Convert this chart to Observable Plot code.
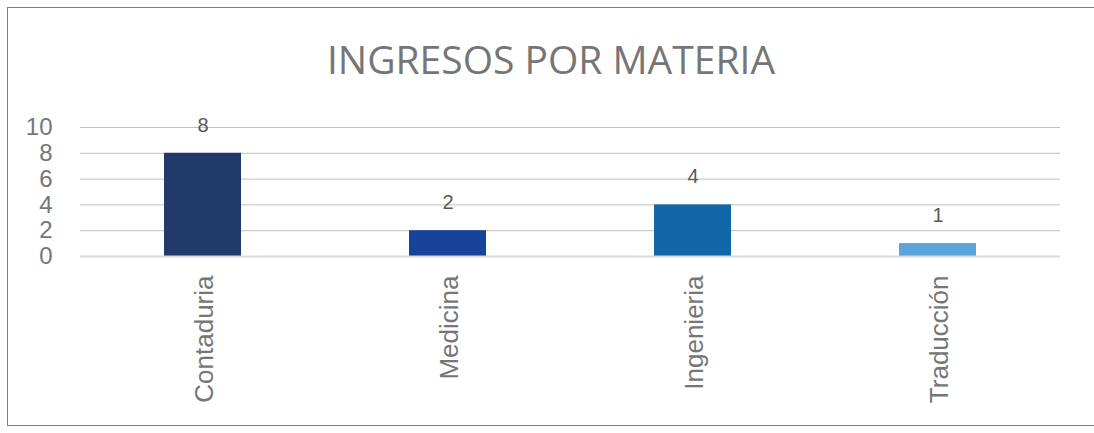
<!DOCTYPE html>
<html><head><meta charset="utf-8">
<script src="https://cdn.jsdelivr.net/npm/d3@7"></script>
<script src="https://cdn.jsdelivr.net/npm/@observablehq/plot@0.6"></script>
<style>
html,body{margin:0;padding:0;background:#fff;overflow:hidden;}
#wrap{position:relative;width:1094px;height:433px;overflow:hidden;font-family:"Liberation Sans",Arial,sans-serif;}
#frame{position:absolute;left:7px;top:7px;width:1120px;height:419px;border:1px solid #7f7f7f;box-sizing:border-box;}
#title{position:absolute;left:0;top:33px;width:1102px;text-align:center;font-family:"Open Sans",sans-serif;font-size:39px;color:#767676;line-height:52px;}
#chart{position:absolute;left:0;top:100px;}
</style></head>
<body><div id="wrap"><div id="frame"></div><div id="title">INGRESOS POR MATERIA</div><div id="chart"></div></div>
<script>
const categories = ["Contaduria", "Medicina", "Ingenieria", "Traducción"];
const values = [8, 2, 4, 1];
const colors = ["#1f3a6b", "#17439a", "#1268a6", "#5ba5dc"];
const yTicks = [0, 2, 4, 6, 8, 10];

const data = categories.map((c, i) => ({cat: c, v: values[i], col: colors[i]}));

const plot = Plot.plot({
  width: 1094,
  height: 333,
  marginLeft: 80,
  marginRight: 34,
  marginTop: 27,
  marginBottom: 177,
  style: {fontFamily: "Liberation Sans, Arial, sans-serif", background: "transparent"},
  x: {domain: categories, paddingInner: 0.686, paddingOuter: 0.343, label: null, axis: null},
  y: {domain: [0, 10], ticks: yTicks, label: null, axis: null},
  marks: [
    Plot.ruleY(yTicks.filter(d => d > 0), {stroke: "#bfbfbf", strokeWidth: 1}),
    Plot.barY(data, {x: "cat", y: "v", fill: "col"}),
    Plot.ruleY([0], {stroke: "#d9d9d9", strokeWidth: 2}),
    Plot.axisY({ticks: yTicks, tickSize: 0, tickPadding: 28, fontSize: 24, fill: "#767676", label: null}),
    Plot.text(data, {x: "cat", y: "v", text: d => String(d.v), dy: -28, fontSize: 20, fill: "#595959"}),
    Plot.text(data, {x: "cat", y: 0, text: "cat", rotate: -90, textAnchor: "end", dy: 19, dx: 2, fontSize: 26, fill: "#767676"})
  ]
});
document.getElementById("chart").appendChild(plot);
</script>
</body></html>
